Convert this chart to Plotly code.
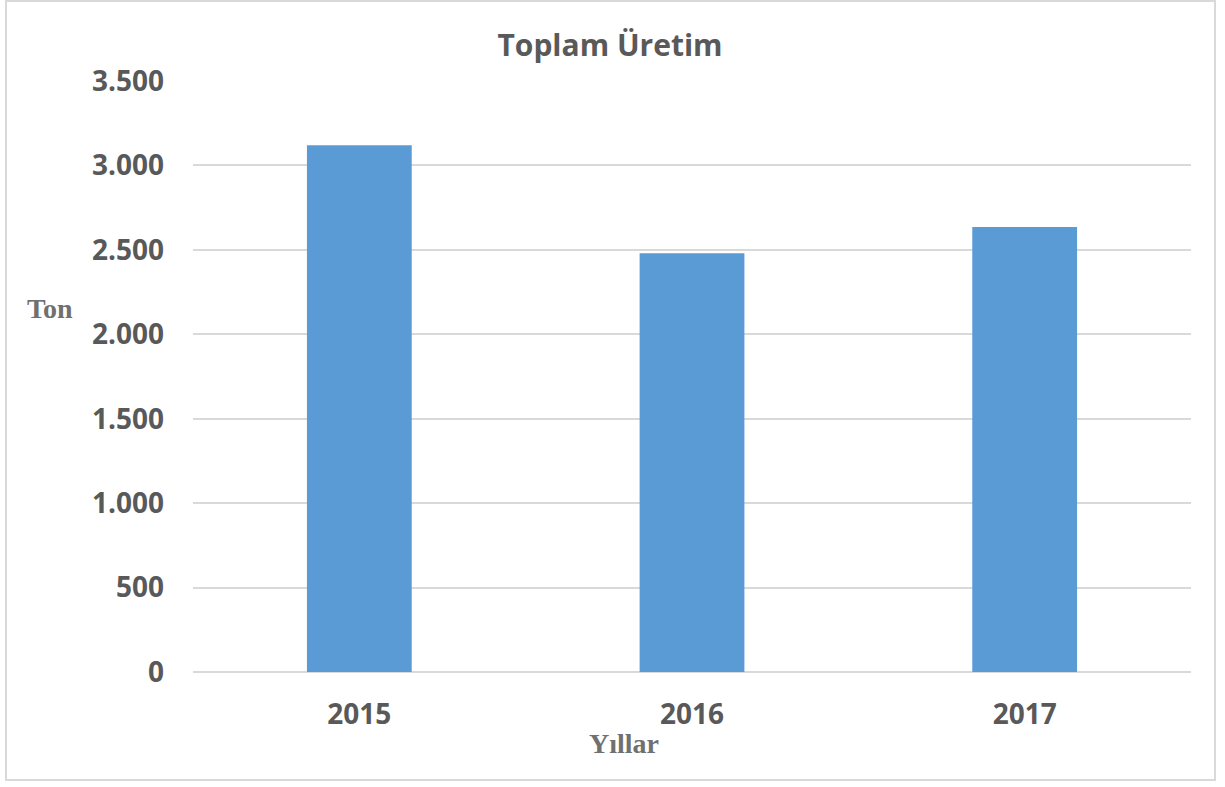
import plotly.graph_objects as go

years = ["2015", "2016", "2017"]
production = [3120, 2480, 2635]
y_ticks = [0, 500, 1000, 1500, 2000, 2500, 3000, 3500]

L, R, T, B = 193, 1225 - 1191, 81, 787 - 672
PW, PH = 1225 - L - R, 787 - T - B

def px_x(x):
    return (x - L) / PW

def px_y(y):
    return (787 - B - y) / PH

FONT = "Open Sans, Lato, sans-serif"
SERIF = "Liberation Serif, DejaVu Serif, serif"

fig = go.Figure()
fig.add_trace(go.Bar(x=years, y=production, marker=dict(color="#5b9bd5", line=dict(width=0)), width=0.315))

fig.update_layout(
    width=1225, height=787,
    margin=dict(l=L, r=R, t=T, b=B),
    paper_bgcolor="white", plot_bgcolor="white",
    separators=",.",
    showlegend=False,
    title=dict(text="<b>Toplam Üretim</b>", x=px_x(610), xref="paper", xanchor="center",
               y=1 - 45 / 787, yanchor="middle",
               font=dict(family=FONT, size=30, color="#595959")),
    font=dict(family=FONT, color="#595959"),
)
fig.update_yaxes(range=[0, 3500], tickvals=y_ticks, tickformat=",d",
                 showgrid=True, gridcolor="#d9d9d9", gridwidth=1.5,
                 zeroline=True, zerolinecolor="#d9d9d9", zerolinewidth=1.5,
                 showline=False, ticks="", ticklabelstandoff=28,
                 tickfont=dict(size=28, family=FONT, color="#595959", weight="bold"))
fig.update_xaxes(showgrid=False, showline=False, ticks="", ticklabelstandoff=23,
                 tickfont=dict(size=28, family=FONT, color="#595959", weight="bold"))

fig.add_annotation(text="<b>Ton</b>", xref="paper", yref="paper", x=px_x(50), y=px_y(308),
                   showarrow=False, xanchor="center", yanchor="middle",
                   font=dict(family=SERIF, size=28, color="#707070"))
fig.add_annotation(text="<b>Yıllar</b>", xref="paper", yref="paper", x=px_x(624), y=px_y(743),
                   showarrow=False, xanchor="center", yanchor="middle",
                   font=dict(family=SERIF, size=28, color="#707070"))

fig.add_shape(type="rect", xref="paper", yref="paper",
              x0=px_x(6), x1=px_x(1215), y0=px_y(780), y1=px_y(1),
              line=dict(color="#d9d9d9", width=2), fillcolor="rgba(0,0,0,0)", layer="below")

fig.write_html("out.html", config={"displayModeBar": False},
               post_script="document.body.style.margin='0';")
